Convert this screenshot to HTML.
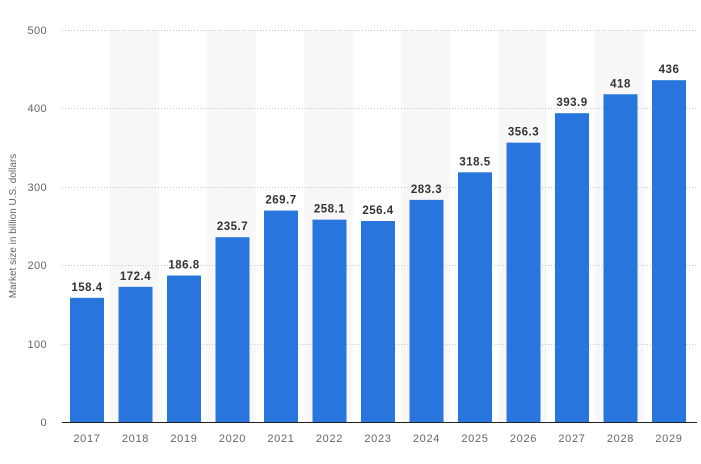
<!DOCTYPE html>
<html><head><style>body{margin:0;background:#fff}svg{display:block}</style></head><body>
<svg width="701" height="464" xmlns="http://www.w3.org/2000/svg" font-family="Liberation Sans, sans-serif">
<g fill="#f7f7f7">
<rect x="110.25" y="30" width="48.5" height="392"/>
<rect x="207.25" y="30" width="48.5" height="392"/>
<rect x="304.25" y="30" width="48.5" height="392"/>
<rect x="401.25" y="30" width="48.5" height="392"/>
<rect x="498.25" y="30" width="48.5" height="392"/>
<rect x="595.25" y="30" width="48.5" height="392"/>
</g>
<g stroke="#c8c8c8" stroke-dasharray="1,2" stroke-width="1">
<line x1="62" x2="697" y1="30.5" y2="30.5"/>
<line x1="62" x2="697" y1="108.5" y2="108.5"/>
<line x1="62" x2="697" y1="187.5" y2="187.5"/>
<line x1="62" x2="697" y1="265.5" y2="265.5"/>
<line x1="62" x2="697" y1="344.5" y2="344.5"/>
</g>
<g font-size="11" fill="#666" text-anchor="end" letter-spacing="0.4">
<text x="47" y="34">500</text><text x="47" y="112">400</text><text x="47" y="191">300</text>
<text x="47" y="269">200</text><text x="47" y="348">100</text><text x="47" y="426">0</text>
</g>
<text transform="translate(16,226) rotate(-90)" font-size="10" fill="#666" text-anchor="middle">Market size in billion U.S. dollars</text>
<g id="bars" fill="#2876dd"></g>
<g id="lab" font-size="11.5" font-weight="bold" fill="#333" text-anchor="middle" letter-spacing="0.5"></g>
<g id="yr" font-size="11" fill="#666" text-anchor="middle" letter-spacing="0.7"></g>
<line x1="62" x2="697" y1="422.5" y2="422.5" stroke="#222" stroke-width="1"/>
<script>
var v=[158.4,172.4,186.8,235.7,269.7,258.1,256.4,283.3,318.5,356.3,393.9,418,436];
var ns="http://www.w3.org/2000/svg",b=document.getElementById('bars'),l=document.getElementById('lab'),y=document.getElementById('yr');
v.forEach(function(d,i){var c=87+48.5*i,h=d*0.784;
var r=document.createElementNS(ns,'rect');r.setAttribute('x',c-17);r.setAttribute('width',34);r.setAttribute('y',422-h);r.setAttribute('height',h);b.appendChild(r);
var t=document.createElementNS(ns,'text');t.setAttribute('x',c);t.setAttribute('y',422-h-7);t.textContent=String(d);l.appendChild(t);
var u=document.createElementNS(ns,'text');u.setAttribute('x',c);u.setAttribute('y',442);u.textContent=2017+i;y.appendChild(u);});
</script>
</svg>
</body></html>
